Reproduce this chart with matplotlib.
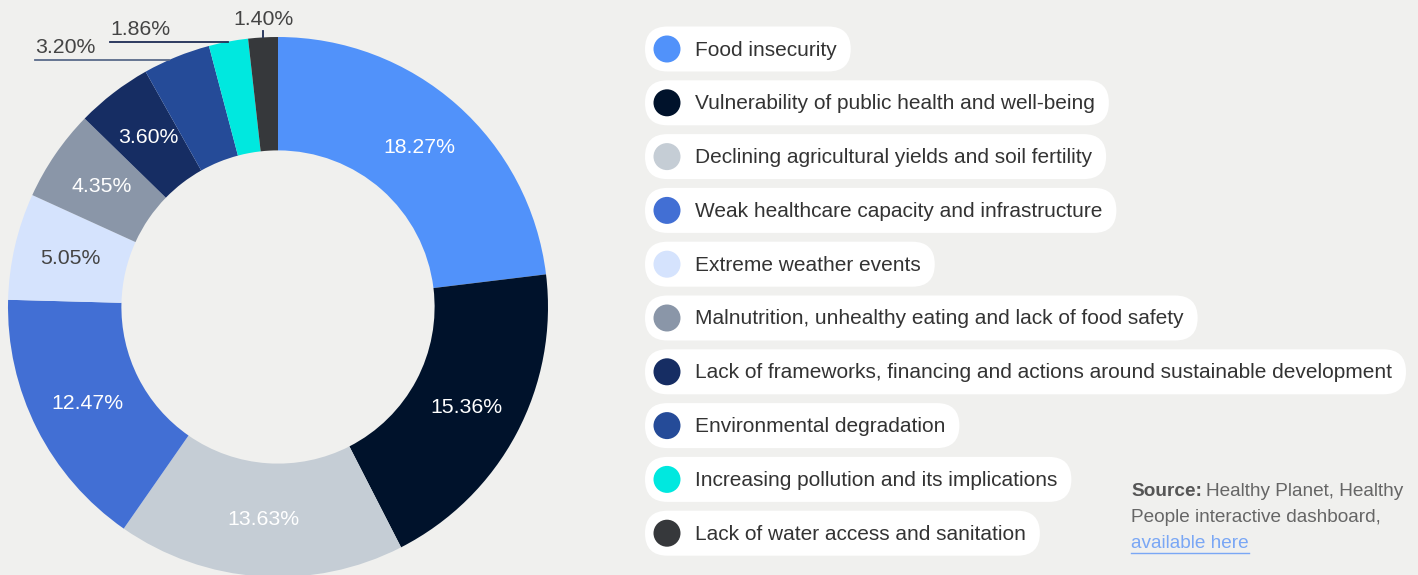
import matplotlib
matplotlib.use("Agg")
import matplotlib.pyplot as plt
from matplotlib.patches import FancyBboxPatch, Circle
import numpy as np

plt.rcParams['font.family'] = ['Liberation Sans', 'DejaVu Sans']

# shares of each risk (as printed on the ring)
categories = [
    'Food insecurity',
    'Vulnerability of public health and well-being',
    'Declining agricultural yields and soil fertility',
    'Weak healthcare capacity and infrastructure',
    'Extreme weather events',
    'Malnutrition, unhealthy eating and lack of food safety',
    'Lack of frameworks, financing and actions around sustainable development',
    'Environmental degradation',
    'Increasing pollution and its implications',
    'Lack of water access and sanitation',
]
values = [18.27, 15.36, 13.63, 12.47, 5.05, 4.35, 3.60, 3.20, 1.86, 1.40]
colors = ['#5192fa', '#00122b', '#c5cdd5', '#426fd4', '#d5e3fd',
          '#8a96a8', '#162d63', '#254b98', '#00e8df', '#36383b']
label_colors = ['white', 'white', 'white', 'white', '#444444',
                'white', 'white', '#444444', '#444444', '#444444']

BG = '#f0f0ee'
W, H = 1418, 575
fig = plt.figure(figsize=(W / 100, H / 100), dpi=100, facecolor=BG)

# ring: centre (278, 307) px, outer radius 270 px
cx, cy, R = 278, 307, 270
ax = fig.add_axes([(cx - R) / W, (H - cy - R) / H, 2 * R / W, 2 * R / H])
ax.set_facecolor('none')
wedges, _ = ax.pie(values, colors=colors, startangle=90, counterclock=False,
                   radius=1, wedgeprops=dict(width=0.42, linewidth=0))
ax.set_xlim(-1, 1)
ax.set_ylim(-1, 1)
ax.set_aspect('equal')
ax.axis('off')

PCT_FS = 15.3
mid_r = 1 - 0.21
for i, (w, v) in enumerate(zip(wedges, values)):
    ang = np.deg2rad((w.theta1 + w.theta2) / 2)
    if i < 7:
        ax.text(mid_r * np.cos(ang), mid_r * np.sin(ang), f'{v:.2f}%',
                ha='center', va='center', fontsize=PCT_FS, color=label_colors[i])

def px(x, y):
    # pixel position -> ring data units
    return (x - cx) / R, (cy - y) / R

# outside labels for the thin slices
outer = {}
for i in (7, 8, 9):
    w = wedges[i]
    ang = np.deg2rad((w.theta1 + w.theta2) / 2)
    outer[i] = (np.cos(ang), np.sin(ang))

gap = 7 / R
_, y0 = px(0, 60)
x0 = -np.sqrt(1 - y0 ** 2)
ax.plot([px(35, 0)[0], x0], [y0, y0], color='#5a6a8a', lw=1.3, clip_on=False)
ax.text(px(35, 0)[0], y0 + gap, '3.20%', ha='left', va='baseline',
        fontsize=PCT_FS, color='#444444')

x1, y1 = outer[8]
ax.plot([px(110, 0)[0], x1], [y1, y1], color='#1e2d55', lw=1.3, clip_on=False)
ax.text(px(110, 0)[0], y1 + gap, '1.86%', ha='left', va='baseline',
        fontsize=PCT_FS, color='#444444')

x2, y2 = outer[9]
ax.plot([x2, x2], [y2, y2 + 0.025], color='#1e2d55', lw=1.3, clip_on=False)
ax.text(x2, y2 + 0.045, '1.40%', ha='center', va='baseline',
        fontsize=PCT_FS, color='#444444')

# legend pills drawn in pixel coordinates
lay = fig.add_axes([0, 0, 1, 1], zorder=-1)
lay.set_xlim(0, W)
lay.set_ylim(H, 0)
lay.axis('off')
lay.patch.set_visible(False)

renderer = fig.canvas.get_renderer()
pill_x, pill_h, step, first_y = 645, 45, 53.8, 49
for i, (name, c) in enumerate(zip(categories, colors)):
    yc = first_y + i * step
    t = lay.text(695, yc + 1, name, ha='left', va='center',
                 fontsize=15, color='#333333', zorder=3)
    tw = t.get_window_extent(renderer).width
    right = 695 + tw + 14
    lay.add_patch(FancyBboxPatch((pill_x, yc - pill_h / 2), right - pill_x, pill_h,
                                 boxstyle=f'round,pad=0,rounding_size={pill_h / 2}',
                                 facecolor='white', edgecolor='none', zorder=1))
    lay.add_patch(Circle((667, yc), 13.5, facecolor=c, edgecolor='none', zorder=2))

# source note
SRC_FS = 13.7
s = lay.text(1131, 492, 'Source:', ha='left', va='center', fontsize=SRC_FS,
             fontweight='bold', color='#555555')
sw = s.get_window_extent(renderer).width
lay.text(1131 + sw + 4, 492, 'Healthy Planet, Healthy', ha='left', va='center',
         fontsize=SRC_FS, color='#666666')
lay.text(1131, 518, 'People interactive dashboard,', ha='left', va='center',
         fontsize=SRC_FS, color='#666666')
link = lay.text(1131, 544, 'available here', ha='left', va='center',
                fontsize=SRC_FS, color='#7aa7f5')
lw_ = link.get_window_extent(renderer).width
lay.plot([1131, 1131 + lw_], [553, 553], color='#7aa7f5', lw=1)

fig.savefig('out.png', dpi=100, facecolor=BG)
